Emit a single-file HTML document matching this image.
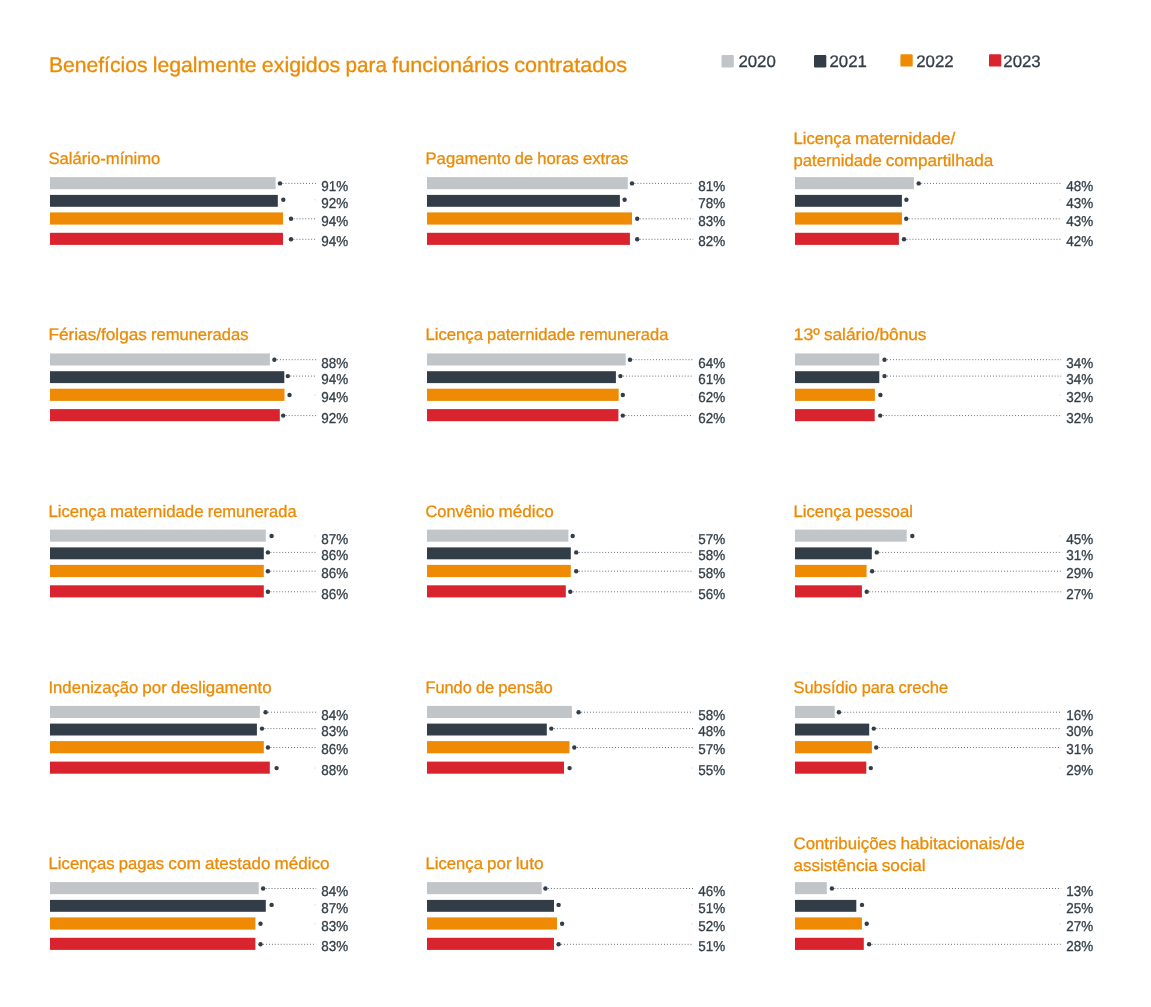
<!DOCTYPE html>
<html lang="pt-BR">
<head>
<meta charset="utf-8">
<title>Benefícios legalmente exigidos para funcionários contratados</title>
<style>
html,body{margin:0;padding:0;background:#fff;}
body{width:1151px;height:1007px;overflow:hidden;}
svg{display:block;}
text{font-family:"Liberation Sans", sans-serif;stroke-width:0.3px;paint-order:stroke fill;text-rendering:geometricPrecision;}
.h{font-size:21.06px;fill:#EB8A05;stroke:#EB8A05;stroke-width:0.3px;}
.t{font-size:16.65px;fill:#EB8A05;stroke:#EB8A05;}
.l{font-size:16.65px;fill:#323D47;stroke:#323D47;}
.v{font-size:14.35px;fill:#323D47;stroke:#323D47;}
.d{fill:#323D47;}
.ln{stroke:#46515b;stroke-width:0.9;stroke-dasharray:0.9 2.04;fill:none;}
</style>
</head>
<body>
<svg width="1151" height="1007" viewBox="0 0 1151 1007">
<rect width="1151" height="1007" fill="#fff"/>
<text class="h" y="71.6"><tspan x="48.90" textLength="98.59" lengthAdjust="spacingAndGlyphs">Benefícios</tspan> <tspan x="152.71" textLength="103.95" lengthAdjust="spacingAndGlyphs">legalmente</tspan> <tspan x="261.88" textLength="78.39" lengthAdjust="spacingAndGlyphs">exigidos</tspan> <tspan x="345.49" textLength="41.44" lengthAdjust="spacingAndGlyphs">para</tspan> <tspan x="392.14" textLength="116.87" lengthAdjust="spacingAndGlyphs">funcionários</tspan> <tspan x="514.23" textLength="112.77" lengthAdjust="spacingAndGlyphs">contratados</tspan></text>
<rect x="721.5" y="55.1" width="12.3" height="12.3" rx="1.2" fill="#C2C5C8"/><text class="l" x="738.4" y="67.1" textLength="37.43" lengthAdjust="spacingAndGlyphs">2020</text>
<rect x="814.0" y="55.1" width="12.3" height="12.3" rx="1.2" fill="#323D47"/><text class="l" x="829.5" y="67.1" textLength="37.43" lengthAdjust="spacingAndGlyphs">2021</text>
<rect x="900.4" y="54.3" width="12.3" height="12.3" rx="1.2" fill="#EE8A04"/><text class="l" x="916.2" y="67.1" textLength="37.43" lengthAdjust="spacingAndGlyphs">2022</text>
<rect x="989.0" y="54.3" width="12.3" height="12.3" rx="1.2" fill="#D9232E"/><text class="l" x="1003.3" y="67.1" textLength="37.43" lengthAdjust="spacingAndGlyphs">2023</text>
<g>
<text class="t" y="164.1"><tspan x="48.50" textLength="111.84" lengthAdjust="spacingAndGlyphs">Salário-mínimo</tspan></text>
<rect x="50.0" y="177.1" width="225.6" height="12.1" fill="#C2C5C8"/><line class="ln" x1="282.6" y1="183.4" x2="316.2" y2="183.4"/><circle class="d" cx="280.0" cy="183.4" r="2.2"/><text class="v" x="321.2" y="191.3" textLength="26.93" lengthAdjust="spacingAndGlyphs">91%</text>
<rect x="50.0" y="194.9" width="227.8" height="11.9" fill="#323D47"/><rect x="314.6" y="199.4" width="0.9" height="0.9" fill="#46515b" opacity="0.35"/><circle class="d" cx="283.3" cy="199.8" r="2.2"/><text class="v" x="321.2" y="207.5" textLength="26.93" lengthAdjust="spacingAndGlyphs">92%</text>
<rect x="50.0" y="212.4" width="233.0" height="12.2" fill="#EE8A04"/><line class="ln" x1="293.6" y1="218.8" x2="316.2" y2="218.8"/><circle class="d" cx="291.0" cy="218.8" r="2.2"/><text class="v" x="321.2" y="225.6" textLength="26.93" lengthAdjust="spacingAndGlyphs">94%</text>
<rect x="50.0" y="232.8" width="233.0" height="12.1" fill="#D9232E"/><line class="ln" x1="293.6" y1="239.3" x2="316.2" y2="239.3"/><circle class="d" cx="291.0" cy="239.3" r="2.2"/><text class="v" x="321.2" y="246.2" textLength="26.93" lengthAdjust="spacingAndGlyphs">94%</text>
</g>
<g>
<text class="t" y="164.1"><tspan x="425.50" textLength="85.23" lengthAdjust="spacingAndGlyphs">Pagamento</tspan> <tspan x="514.86" textLength="18.21" lengthAdjust="spacingAndGlyphs">de</tspan> <tspan x="537.20" textLength="41.61" lengthAdjust="spacingAndGlyphs">horas</tspan> <tspan x="582.94" textLength="45.48" lengthAdjust="spacingAndGlyphs">extras</tspan></text>
<rect x="427.0" y="177.1" width="200.8" height="12.1" fill="#C2C5C8"/><line class="ln" x1="634.6" y1="183.4" x2="693.2" y2="183.4"/><circle class="d" cx="632.0" cy="183.4" r="2.2"/><text class="v" x="698.2" y="191.3" textLength="26.93" lengthAdjust="spacingAndGlyphs">81%</text>
<rect x="427.0" y="194.9" width="192.9" height="11.9" fill="#323D47"/><rect x="691.6" y="199.4" width="0.9" height="0.9" fill="#46515b" opacity="0.35"/><circle class="d" cx="624.6" cy="199.8" r="2.2"/><text class="v" x="698.2" y="207.5" textLength="26.93" lengthAdjust="spacingAndGlyphs">78%</text>
<rect x="427.0" y="212.4" width="205.0" height="12.2" fill="#EE8A04"/><line class="ln" x1="639.8" y1="218.8" x2="693.2" y2="218.8"/><circle class="d" cx="637.2" cy="218.8" r="2.2"/><text class="v" x="698.2" y="225.6" textLength="26.93" lengthAdjust="spacingAndGlyphs">83%</text>
<rect x="427.0" y="232.8" width="202.9" height="12.1" fill="#D9232E"/><line class="ln" x1="639.8" y1="239.3" x2="693.2" y2="239.3"/><circle class="d" cx="637.2" cy="239.3" r="2.2"/><text class="v" x="698.2" y="246.2" textLength="26.93" lengthAdjust="spacingAndGlyphs">82%</text>
</g>
<g>
<text class="t" y="143.5"><tspan x="793.50" textLength="57.49" lengthAdjust="spacingAndGlyphs">Licença</tspan> <tspan x="855.12" textLength="100.30" lengthAdjust="spacingAndGlyphs">maternidade/</tspan></text>
<text class="t" y="166.4"><tspan x="793.50" textLength="88.18" lengthAdjust="spacingAndGlyphs">paternidade</tspan> <tspan x="885.81" textLength="107.42" lengthAdjust="spacingAndGlyphs">compartilhada</tspan></text>
<rect x="795.0" y="177.1" width="118.9" height="12.1" fill="#C2C5C8"/><line class="ln" x1="921.3" y1="183.4" x2="1061.2" y2="183.4"/><circle class="d" cx="918.7" cy="183.4" r="2.2"/><text class="v" x="1066.2" y="191.3" textLength="26.93" lengthAdjust="spacingAndGlyphs">48%</text>
<rect x="795.0" y="194.9" width="106.9" height="11.9" fill="#323D47"/><rect x="1059.6" y="199.4" width="0.9" height="0.9" fill="#46515b" opacity="0.35"/><circle class="d" cx="906.4" cy="199.8" r="2.2"/><text class="v" x="1066.2" y="207.5" textLength="26.93" lengthAdjust="spacingAndGlyphs">43%</text>
<rect x="795.0" y="212.4" width="106.9" height="12.2" fill="#EE8A04"/><line class="ln" x1="908.8" y1="218.8" x2="1061.2" y2="218.8"/><circle class="d" cx="906.2" cy="218.8" r="2.2"/><text class="v" x="1066.2" y="225.6" textLength="26.93" lengthAdjust="spacingAndGlyphs">43%</text>
<rect x="795.0" y="232.8" width="103.9" height="12.1" fill="#D9232E"/><line class="ln" x1="906.6" y1="239.3" x2="1061.2" y2="239.3"/><circle class="d" cx="904.0" cy="239.3" r="2.2"/><text class="v" x="1066.2" y="246.2" textLength="26.93" lengthAdjust="spacingAndGlyphs">42%</text>
</g>
<g>
<text class="t" y="340.4"><tspan x="48.50" textLength="98.35" lengthAdjust="spacingAndGlyphs">Férias/folgas</tspan> <tspan x="150.98" textLength="97.48" lengthAdjust="spacingAndGlyphs">remuneradas</tspan></text>
<rect x="50.0" y="353.4" width="219.9" height="12.1" fill="#C2C5C8"/><line class="ln" x1="277.0" y1="359.7" x2="316.2" y2="359.7"/><circle class="d" cx="274.4" cy="359.7" r="2.2"/><text class="v" x="321.2" y="367.6" textLength="26.93" lengthAdjust="spacingAndGlyphs">88%</text>
<rect x="50.0" y="371.2" width="234.3" height="11.9" fill="#323D47"/><line class="ln" x1="290.4" y1="376.1" x2="316.2" y2="376.1"/><circle class="d" cx="287.8" cy="376.1" r="2.2"/><text class="v" x="321.2" y="383.8" textLength="26.93" lengthAdjust="spacingAndGlyphs">94%</text>
<rect x="50.0" y="388.7" width="234.5" height="12.2" fill="#EE8A04"/><rect x="314.6" y="394.6" width="0.9" height="0.9" fill="#46515b" opacity="0.35"/><circle class="d" cx="289.5" cy="395.0" r="2.2"/><text class="v" x="321.2" y="401.9" textLength="26.93" lengthAdjust="spacingAndGlyphs">94%</text>
<rect x="50.0" y="409.1" width="229.8" height="12.1" fill="#D9232E"/><line class="ln" x1="285.8" y1="415.6" x2="316.2" y2="415.6"/><circle class="d" cx="283.2" cy="415.6" r="2.2"/><text class="v" x="321.2" y="422.5" textLength="26.93" lengthAdjust="spacingAndGlyphs">92%</text>
</g>
<g>
<text class="t" y="340.4"><tspan x="425.50" textLength="57.49" lengthAdjust="spacingAndGlyphs">Licença</tspan> <tspan x="487.12" textLength="88.18" lengthAdjust="spacingAndGlyphs">paternidade</tspan> <tspan x="579.43" textLength="88.89" lengthAdjust="spacingAndGlyphs">remunerada</tspan></text>
<rect x="427.0" y="353.4" width="198.7" height="12.1" fill="#C2C5C8"/><line class="ln" x1="632.6" y1="359.7" x2="693.2" y2="359.7"/><circle class="d" cx="630.0" cy="359.7" r="2.2"/><text class="v" x="698.2" y="367.6" textLength="26.93" lengthAdjust="spacingAndGlyphs">64%</text>
<rect x="427.0" y="371.2" width="188.9" height="11.9" fill="#323D47"/><line class="ln" x1="623.0" y1="376.1" x2="693.2" y2="376.1"/><circle class="d" cx="620.4" cy="376.1" r="2.2"/><text class="v" x="698.2" y="383.8" textLength="26.93" lengthAdjust="spacingAndGlyphs">61%</text>
<rect x="427.0" y="388.7" width="191.7" height="12.2" fill="#EE8A04"/><rect x="691.6" y="394.6" width="0.9" height="0.9" fill="#46515b" opacity="0.35"/><circle class="d" cx="622.8" cy="395.0" r="2.2"/><text class="v" x="698.2" y="401.9" textLength="26.93" lengthAdjust="spacingAndGlyphs">62%</text>
<rect x="427.0" y="409.1" width="191.4" height="12.1" fill="#D9232E"/><line class="ln" x1="625.4" y1="415.6" x2="693.2" y2="415.6"/><circle class="d" cx="622.8" cy="415.6" r="2.2"/><text class="v" x="698.2" y="422.5" textLength="26.93" lengthAdjust="spacingAndGlyphs">62%</text>
</g>
<g>
<text class="t" y="340.4"><tspan x="793.50" textLength="26.28" lengthAdjust="spacingAndGlyphs">13º</tspan> <tspan x="823.90" textLength="102.57" lengthAdjust="spacingAndGlyphs">salário/bônus</tspan></text>
<rect x="795.0" y="353.4" width="84.3" height="12.1" fill="#C2C5C8"/><line class="ln" x1="887.1" y1="359.7" x2="1061.2" y2="359.7"/><circle class="d" cx="884.5" cy="359.7" r="2.2"/><text class="v" x="1066.2" y="367.6" textLength="26.93" lengthAdjust="spacingAndGlyphs">34%</text>
<rect x="795.0" y="371.2" width="84.3" height="11.9" fill="#323D47"/><line class="ln" x1="887.1" y1="376.1" x2="1061.2" y2="376.1"/><circle class="d" cx="884.5" cy="376.1" r="2.2"/><text class="v" x="1066.2" y="383.8" textLength="26.93" lengthAdjust="spacingAndGlyphs">34%</text>
<rect x="795.0" y="388.7" width="79.9" height="12.2" fill="#EE8A04"/><rect x="1059.6" y="394.6" width="0.9" height="0.9" fill="#46515b" opacity="0.35"/><circle class="d" cx="880.4" cy="395.0" r="2.2"/><text class="v" x="1066.2" y="401.9" textLength="26.93" lengthAdjust="spacingAndGlyphs">32%</text>
<rect x="795.0" y="409.1" width="79.7" height="12.1" fill="#D9232E"/><line class="ln" x1="882.8" y1="415.6" x2="1061.2" y2="415.6"/><circle class="d" cx="880.2" cy="415.6" r="2.2"/><text class="v" x="1066.2" y="422.5" textLength="26.93" lengthAdjust="spacingAndGlyphs">32%</text>
</g>
<g>
<text class="t" y="516.6"><tspan x="48.50" textLength="57.49" lengthAdjust="spacingAndGlyphs">Licença</tspan> <tspan x="110.12" textLength="93.43" lengthAdjust="spacingAndGlyphs">maternidade</tspan> <tspan x="207.68" textLength="88.89" lengthAdjust="spacingAndGlyphs">remunerada</tspan></text>
<rect x="50.0" y="529.6" width="215.8" height="12.1" fill="#C2C5C8"/><rect x="314.6" y="535.5" width="0.9" height="0.9" fill="#46515b" opacity="0.35"/><circle class="d" cx="271.6" cy="536.0" r="2.2"/><text class="v" x="321.2" y="543.9" textLength="26.93" lengthAdjust="spacingAndGlyphs">87%</text>
<rect x="50.0" y="547.4" width="213.8" height="11.9" fill="#323D47"/><line class="ln" x1="270.5" y1="552.4" x2="316.2" y2="552.4"/><circle class="d" cx="267.9" cy="552.4" r="2.2"/><text class="v" x="321.2" y="560.1" textLength="26.93" lengthAdjust="spacingAndGlyphs">86%</text>
<rect x="50.0" y="564.9" width="213.8" height="12.2" fill="#EE8A04"/><line class="ln" x1="270.5" y1="571.2" x2="316.2" y2="571.2"/><circle class="d" cx="267.9" cy="571.2" r="2.2"/><text class="v" x="321.2" y="578.1" textLength="26.93" lengthAdjust="spacingAndGlyphs">86%</text>
<rect x="50.0" y="585.3" width="213.8" height="12.1" fill="#D9232E"/><line class="ln" x1="270.5" y1="591.8" x2="316.2" y2="591.8"/><circle class="d" cx="267.9" cy="591.8" r="2.2"/><text class="v" x="321.2" y="598.7" textLength="26.93" lengthAdjust="spacingAndGlyphs">86%</text>
</g>
<g>
<text class="t" y="516.6"><tspan x="425.50" textLength="69.02" lengthAdjust="spacingAndGlyphs">Convênio</tspan> <tspan x="498.64" textLength="55.05" lengthAdjust="spacingAndGlyphs">médico</tspan></text>
<rect x="427.0" y="529.6" width="141.4" height="12.1" fill="#C2C5C8"/><rect x="691.6" y="535.5" width="0.9" height="0.9" fill="#46515b" opacity="0.35"/><circle class="d" cx="572.7" cy="536.0" r="2.2"/><text class="v" x="698.2" y="543.9" textLength="26.93" lengthAdjust="spacingAndGlyphs">57%</text>
<rect x="427.0" y="547.4" width="143.8" height="11.9" fill="#323D47"/><line class="ln" x1="578.8" y1="552.4" x2="693.2" y2="552.4"/><circle class="d" cx="576.2" cy="552.4" r="2.2"/><text class="v" x="698.2" y="560.1" textLength="26.93" lengthAdjust="spacingAndGlyphs">58%</text>
<rect x="427.0" y="564.9" width="143.8" height="12.2" fill="#EE8A04"/><line class="ln" x1="578.8" y1="571.2" x2="693.2" y2="571.2"/><circle class="d" cx="576.2" cy="571.2" r="2.2"/><text class="v" x="698.2" y="578.1" textLength="26.93" lengthAdjust="spacingAndGlyphs">58%</text>
<rect x="427.0" y="585.3" width="138.8" height="12.1" fill="#D9232E"/><line class="ln" x1="572.9" y1="591.8" x2="693.2" y2="591.8"/><circle class="d" cx="570.3" cy="591.8" r="2.2"/><text class="v" x="698.2" y="598.7" textLength="26.93" lengthAdjust="spacingAndGlyphs">56%</text>
</g>
<g>
<text class="t" y="516.6"><tspan x="793.50" textLength="57.49" lengthAdjust="spacingAndGlyphs">Licença</tspan> <tspan x="855.12" textLength="57.93" lengthAdjust="spacingAndGlyphs">pessoal</tspan></text>
<rect x="795.0" y="529.6" width="111.7" height="12.1" fill="#C2C5C8"/><rect x="1059.6" y="535.5" width="0.9" height="0.9" fill="#46515b" opacity="0.35"/><circle class="d" cx="912.3" cy="536.0" r="2.2"/><text class="v" x="1066.2" y="543.9" textLength="26.93" lengthAdjust="spacingAndGlyphs">45%</text>
<rect x="795.0" y="547.4" width="76.8" height="11.9" fill="#323D47"/><line class="ln" x1="879.4" y1="552.4" x2="1061.2" y2="552.4"/><circle class="d" cx="876.8" cy="552.4" r="2.2"/><text class="v" x="1066.2" y="560.1" textLength="26.93" lengthAdjust="spacingAndGlyphs">31%</text>
<rect x="795.0" y="564.9" width="71.6" height="12.2" fill="#EE8A04"/><line class="ln" x1="874.7" y1="571.2" x2="1061.2" y2="571.2"/><circle class="d" cx="872.1" cy="571.2" r="2.2"/><text class="v" x="1066.2" y="578.1" textLength="26.93" lengthAdjust="spacingAndGlyphs">29%</text>
<rect x="795.0" y="585.3" width="66.9" height="12.1" fill="#D9232E"/><line class="ln" x1="869.3" y1="591.8" x2="1061.2" y2="591.8"/><circle class="d" cx="866.7" cy="591.8" r="2.2"/><text class="v" x="1066.2" y="598.7" textLength="26.93" lengthAdjust="spacingAndGlyphs">27%</text>
</g>
<g>
<text class="t" y="692.9"><tspan x="48.50" textLength="89.72" lengthAdjust="spacingAndGlyphs">Indenização</tspan> <tspan x="142.35" textLength="24.47" lengthAdjust="spacingAndGlyphs">por</tspan> <tspan x="170.95" textLength="100.66" lengthAdjust="spacingAndGlyphs">desligamento</tspan></text>
<rect x="50.0" y="705.9" width="209.9" height="12.1" fill="#C2C5C8"/><line class="ln" x1="268.2" y1="712.2" x2="316.2" y2="712.2"/><circle class="d" cx="265.6" cy="712.2" r="2.2"/><text class="v" x="321.2" y="720.1" textLength="26.93" lengthAdjust="spacingAndGlyphs">84%</text>
<rect x="50.0" y="723.6" width="206.9" height="11.9" fill="#323D47"/><line class="ln" x1="264.6" y1="728.6" x2="316.2" y2="728.6"/><circle class="d" cx="262.0" cy="728.6" r="2.2"/><text class="v" x="321.2" y="736.3" textLength="26.93" lengthAdjust="spacingAndGlyphs">83%</text>
<rect x="50.0" y="741.1" width="213.8" height="12.2" fill="#EE8A04"/><line class="ln" x1="270.5" y1="747.5" x2="316.2" y2="747.5"/><circle class="d" cx="267.9" cy="747.5" r="2.2"/><text class="v" x="321.2" y="754.4" textLength="26.93" lengthAdjust="spacingAndGlyphs">86%</text>
<rect x="50.0" y="761.6" width="219.8" height="12.1" fill="#D9232E"/><rect x="314.6" y="767.6" width="0.9" height="0.9" fill="#46515b" opacity="0.35"/><circle class="d" cx="276.6" cy="768.1" r="2.2"/><text class="v" x="321.2" y="775.0" textLength="26.93" lengthAdjust="spacingAndGlyphs">88%</text>
</g>
<g>
<text class="t" y="692.9"><tspan x="425.50" textLength="46.26" lengthAdjust="spacingAndGlyphs">Fundo</tspan> <tspan x="475.88" textLength="18.21" lengthAdjust="spacingAndGlyphs">de</tspan> <tspan x="498.22" textLength="54.49" lengthAdjust="spacingAndGlyphs">pensão</tspan></text>
<rect x="427.0" y="705.9" width="144.9" height="12.1" fill="#C2C5C8"/><line class="ln" x1="581.2" y1="712.2" x2="693.2" y2="712.2"/><circle class="d" cx="578.6" cy="712.2" r="2.2"/><text class="v" x="698.2" y="720.1" textLength="26.93" lengthAdjust="spacingAndGlyphs">58%</text>
<rect x="427.0" y="723.6" width="119.8" height="11.9" fill="#323D47"/><line class="ln" x1="553.9" y1="728.6" x2="693.2" y2="728.6"/><circle class="d" cx="551.3" cy="728.6" r="2.2"/><text class="v" x="698.2" y="736.3" textLength="26.93" lengthAdjust="spacingAndGlyphs">48%</text>
<rect x="427.0" y="741.1" width="142.5" height="12.2" fill="#EE8A04"/><line class="ln" x1="576.9" y1="747.5" x2="693.2" y2="747.5"/><circle class="d" cx="574.3" cy="747.5" r="2.2"/><text class="v" x="698.2" y="754.4" textLength="26.93" lengthAdjust="spacingAndGlyphs">57%</text>
<rect x="427.0" y="761.6" width="137.0" height="12.1" fill="#D9232E"/><rect x="691.6" y="767.6" width="0.9" height="0.9" fill="#46515b" opacity="0.35"/><circle class="d" cx="569.6" cy="768.1" r="2.2"/><text class="v" x="698.2" y="775.0" textLength="26.93" lengthAdjust="spacingAndGlyphs">55%</text>
</g>
<g>
<text class="t" y="692.9"><tspan x="793.50" textLength="64.03" lengthAdjust="spacingAndGlyphs">Subsídio</tspan> <tspan x="861.66" textLength="32.76" lengthAdjust="spacingAndGlyphs">para</tspan> <tspan x="898.54" textLength="49.72" lengthAdjust="spacingAndGlyphs">creche</tspan></text>
<rect x="795.0" y="705.9" width="39.7" height="12.1" fill="#C2C5C8"/><line class="ln" x1="841.5" y1="712.2" x2="1061.2" y2="712.2"/><circle class="d" cx="838.9" cy="712.2" r="2.2"/><text class="v" x="1066.2" y="720.1" textLength="26.93" lengthAdjust="spacingAndGlyphs">16%</text>
<rect x="795.0" y="723.6" width="74.2" height="11.9" fill="#323D47"/><line class="ln" x1="876.4" y1="728.6" x2="1061.2" y2="728.6"/><circle class="d" cx="873.8" cy="728.6" r="2.2"/><text class="v" x="1066.2" y="736.3" textLength="26.93" lengthAdjust="spacingAndGlyphs">30%</text>
<rect x="795.0" y="741.1" width="76.9" height="12.2" fill="#EE8A04"/><line class="ln" x1="878.8" y1="747.5" x2="1061.2" y2="747.5"/><circle class="d" cx="876.2" cy="747.5" r="2.2"/><text class="v" x="1066.2" y="754.4" textLength="26.93" lengthAdjust="spacingAndGlyphs">31%</text>
<rect x="795.0" y="761.6" width="71.3" height="12.1" fill="#D9232E"/><rect x="1059.6" y="767.6" width="0.9" height="0.9" fill="#46515b" opacity="0.35"/><circle class="d" cx="870.8" cy="768.1" r="2.2"/><text class="v" x="1066.2" y="775.0" textLength="26.93" lengthAdjust="spacingAndGlyphs">29%</text>
</g>
<g>
<text class="t" y="869.1"><tspan x="48.50" textLength="66.08" lengthAdjust="spacingAndGlyphs">Licenças</tspan> <tspan x="118.71" textLength="45.38" lengthAdjust="spacingAndGlyphs">pagas</tspan> <tspan x="168.22" textLength="32.79" lengthAdjust="spacingAndGlyphs">com</tspan> <tspan x="205.14" textLength="65.28" lengthAdjust="spacingAndGlyphs">atestado</tspan> <tspan x="274.55" textLength="55.05" lengthAdjust="spacingAndGlyphs">médico</tspan></text>
<rect x="50.0" y="882.1" width="208.7" height="12.1" fill="#C2C5C8"/><line class="ln" x1="265.7" y1="888.5" x2="316.2" y2="888.5"/><circle class="d" cx="263.1" cy="888.5" r="2.2"/><text class="v" x="321.2" y="896.4" textLength="26.93" lengthAdjust="spacingAndGlyphs">84%</text>
<rect x="50.0" y="899.9" width="215.8" height="11.9" fill="#323D47"/><rect x="314.6" y="904.4" width="0.9" height="0.9" fill="#46515b" opacity="0.35"/><circle class="d" cx="271.6" cy="904.9" r="2.2"/><text class="v" x="321.2" y="912.6" textLength="26.93" lengthAdjust="spacingAndGlyphs">87%</text>
<rect x="50.0" y="917.4" width="205.4" height="12.2" fill="#EE8A04"/><rect x="314.6" y="923.3" width="0.9" height="0.9" fill="#46515b" opacity="0.35"/><circle class="d" cx="260.5" cy="923.8" r="2.2"/><text class="v" x="321.2" y="930.6" textLength="26.93" lengthAdjust="spacingAndGlyphs">83%</text>
<rect x="50.0" y="937.8" width="205.4" height="12.1" fill="#D9232E"/><line class="ln" x1="263.1" y1="944.3" x2="316.2" y2="944.3"/><circle class="d" cx="260.5" cy="944.3" r="2.2"/><text class="v" x="321.2" y="951.2" textLength="26.93" lengthAdjust="spacingAndGlyphs">83%</text>
</g>
<g>
<text class="t" y="869.1"><tspan x="425.50" textLength="57.49" lengthAdjust="spacingAndGlyphs">Licença</tspan> <tspan x="487.12" textLength="24.47" lengthAdjust="spacingAndGlyphs">por</tspan> <tspan x="515.72" textLength="27.99" lengthAdjust="spacingAndGlyphs">luto</tspan></text>
<rect x="427.0" y="882.1" width="114.7" height="12.1" fill="#C2C5C8"/><line class="ln" x1="548.0" y1="888.5" x2="693.2" y2="888.5"/><circle class="d" cx="545.4" cy="888.5" r="2.2"/><text class="v" x="698.2" y="896.4" textLength="26.93" lengthAdjust="spacingAndGlyphs">46%</text>
<rect x="427.0" y="899.9" width="127.0" height="11.9" fill="#323D47"/><rect x="691.6" y="904.4" width="0.9" height="0.9" fill="#46515b" opacity="0.35"/><circle class="d" cx="558.6" cy="904.9" r="2.2"/><text class="v" x="698.2" y="912.6" textLength="26.93" lengthAdjust="spacingAndGlyphs">51%</text>
<rect x="427.0" y="917.4" width="130.0" height="12.2" fill="#EE8A04"/><rect x="691.6" y="923.3" width="0.9" height="0.9" fill="#46515b" opacity="0.35"/><circle class="d" cx="562.1" cy="923.8" r="2.2"/><text class="v" x="698.2" y="930.6" textLength="26.93" lengthAdjust="spacingAndGlyphs">52%</text>
<rect x="427.0" y="937.8" width="127.0" height="12.1" fill="#D9232E"/><line class="ln" x1="561.2" y1="944.3" x2="693.2" y2="944.3"/><circle class="d" cx="558.6" cy="944.3" r="2.2"/><text class="v" x="698.2" y="951.2" textLength="26.93" lengthAdjust="spacingAndGlyphs">51%</text>
</g>
<g>
<text class="t" y="848.5"><tspan x="793.50" textLength="102.82" lengthAdjust="spacingAndGlyphs">Contribuições</tspan> <tspan x="900.45" textLength="124.30" lengthAdjust="spacingAndGlyphs">habitacionais/de</tspan></text>
<text class="t" y="871.4"><tspan x="793.50" textLength="84.13" lengthAdjust="spacingAndGlyphs">assistência</tspan> <tspan x="881.76" textLength="43.93" lengthAdjust="spacingAndGlyphs">social</tspan></text>
<rect x="795.0" y="882.1" width="31.8" height="12.1" fill="#C2C5C8"/><line class="ln" x1="834.5" y1="888.5" x2="1061.2" y2="888.5"/><circle class="d" cx="831.9" cy="888.5" r="2.2"/><text class="v" x="1066.2" y="896.4" textLength="26.93" lengthAdjust="spacingAndGlyphs">13%</text>
<rect x="795.0" y="899.9" width="61.3" height="11.9" fill="#323D47"/><rect x="1059.6" y="904.4" width="0.9" height="0.9" fill="#46515b" opacity="0.35"/><circle class="d" cx="862.0" cy="904.9" r="2.2"/><text class="v" x="1066.2" y="912.6" textLength="26.93" lengthAdjust="spacingAndGlyphs">25%</text>
<rect x="795.0" y="917.4" width="66.9" height="12.2" fill="#EE8A04"/><rect x="1059.6" y="923.3" width="0.9" height="0.9" fill="#46515b" opacity="0.35"/><circle class="d" cx="866.7" cy="923.8" r="2.2"/><text class="v" x="1066.2" y="930.6" textLength="26.93" lengthAdjust="spacingAndGlyphs">27%</text>
<rect x="795.0" y="937.8" width="68.8" height="12.1" fill="#D9232E"/><line class="ln" x1="871.7" y1="944.3" x2="1061.2" y2="944.3"/><circle class="d" cx="869.1" cy="944.3" r="2.2"/><text class="v" x="1066.2" y="951.2" textLength="26.93" lengthAdjust="spacingAndGlyphs">28%</text>
</g>
</svg>
</body>
</html>
